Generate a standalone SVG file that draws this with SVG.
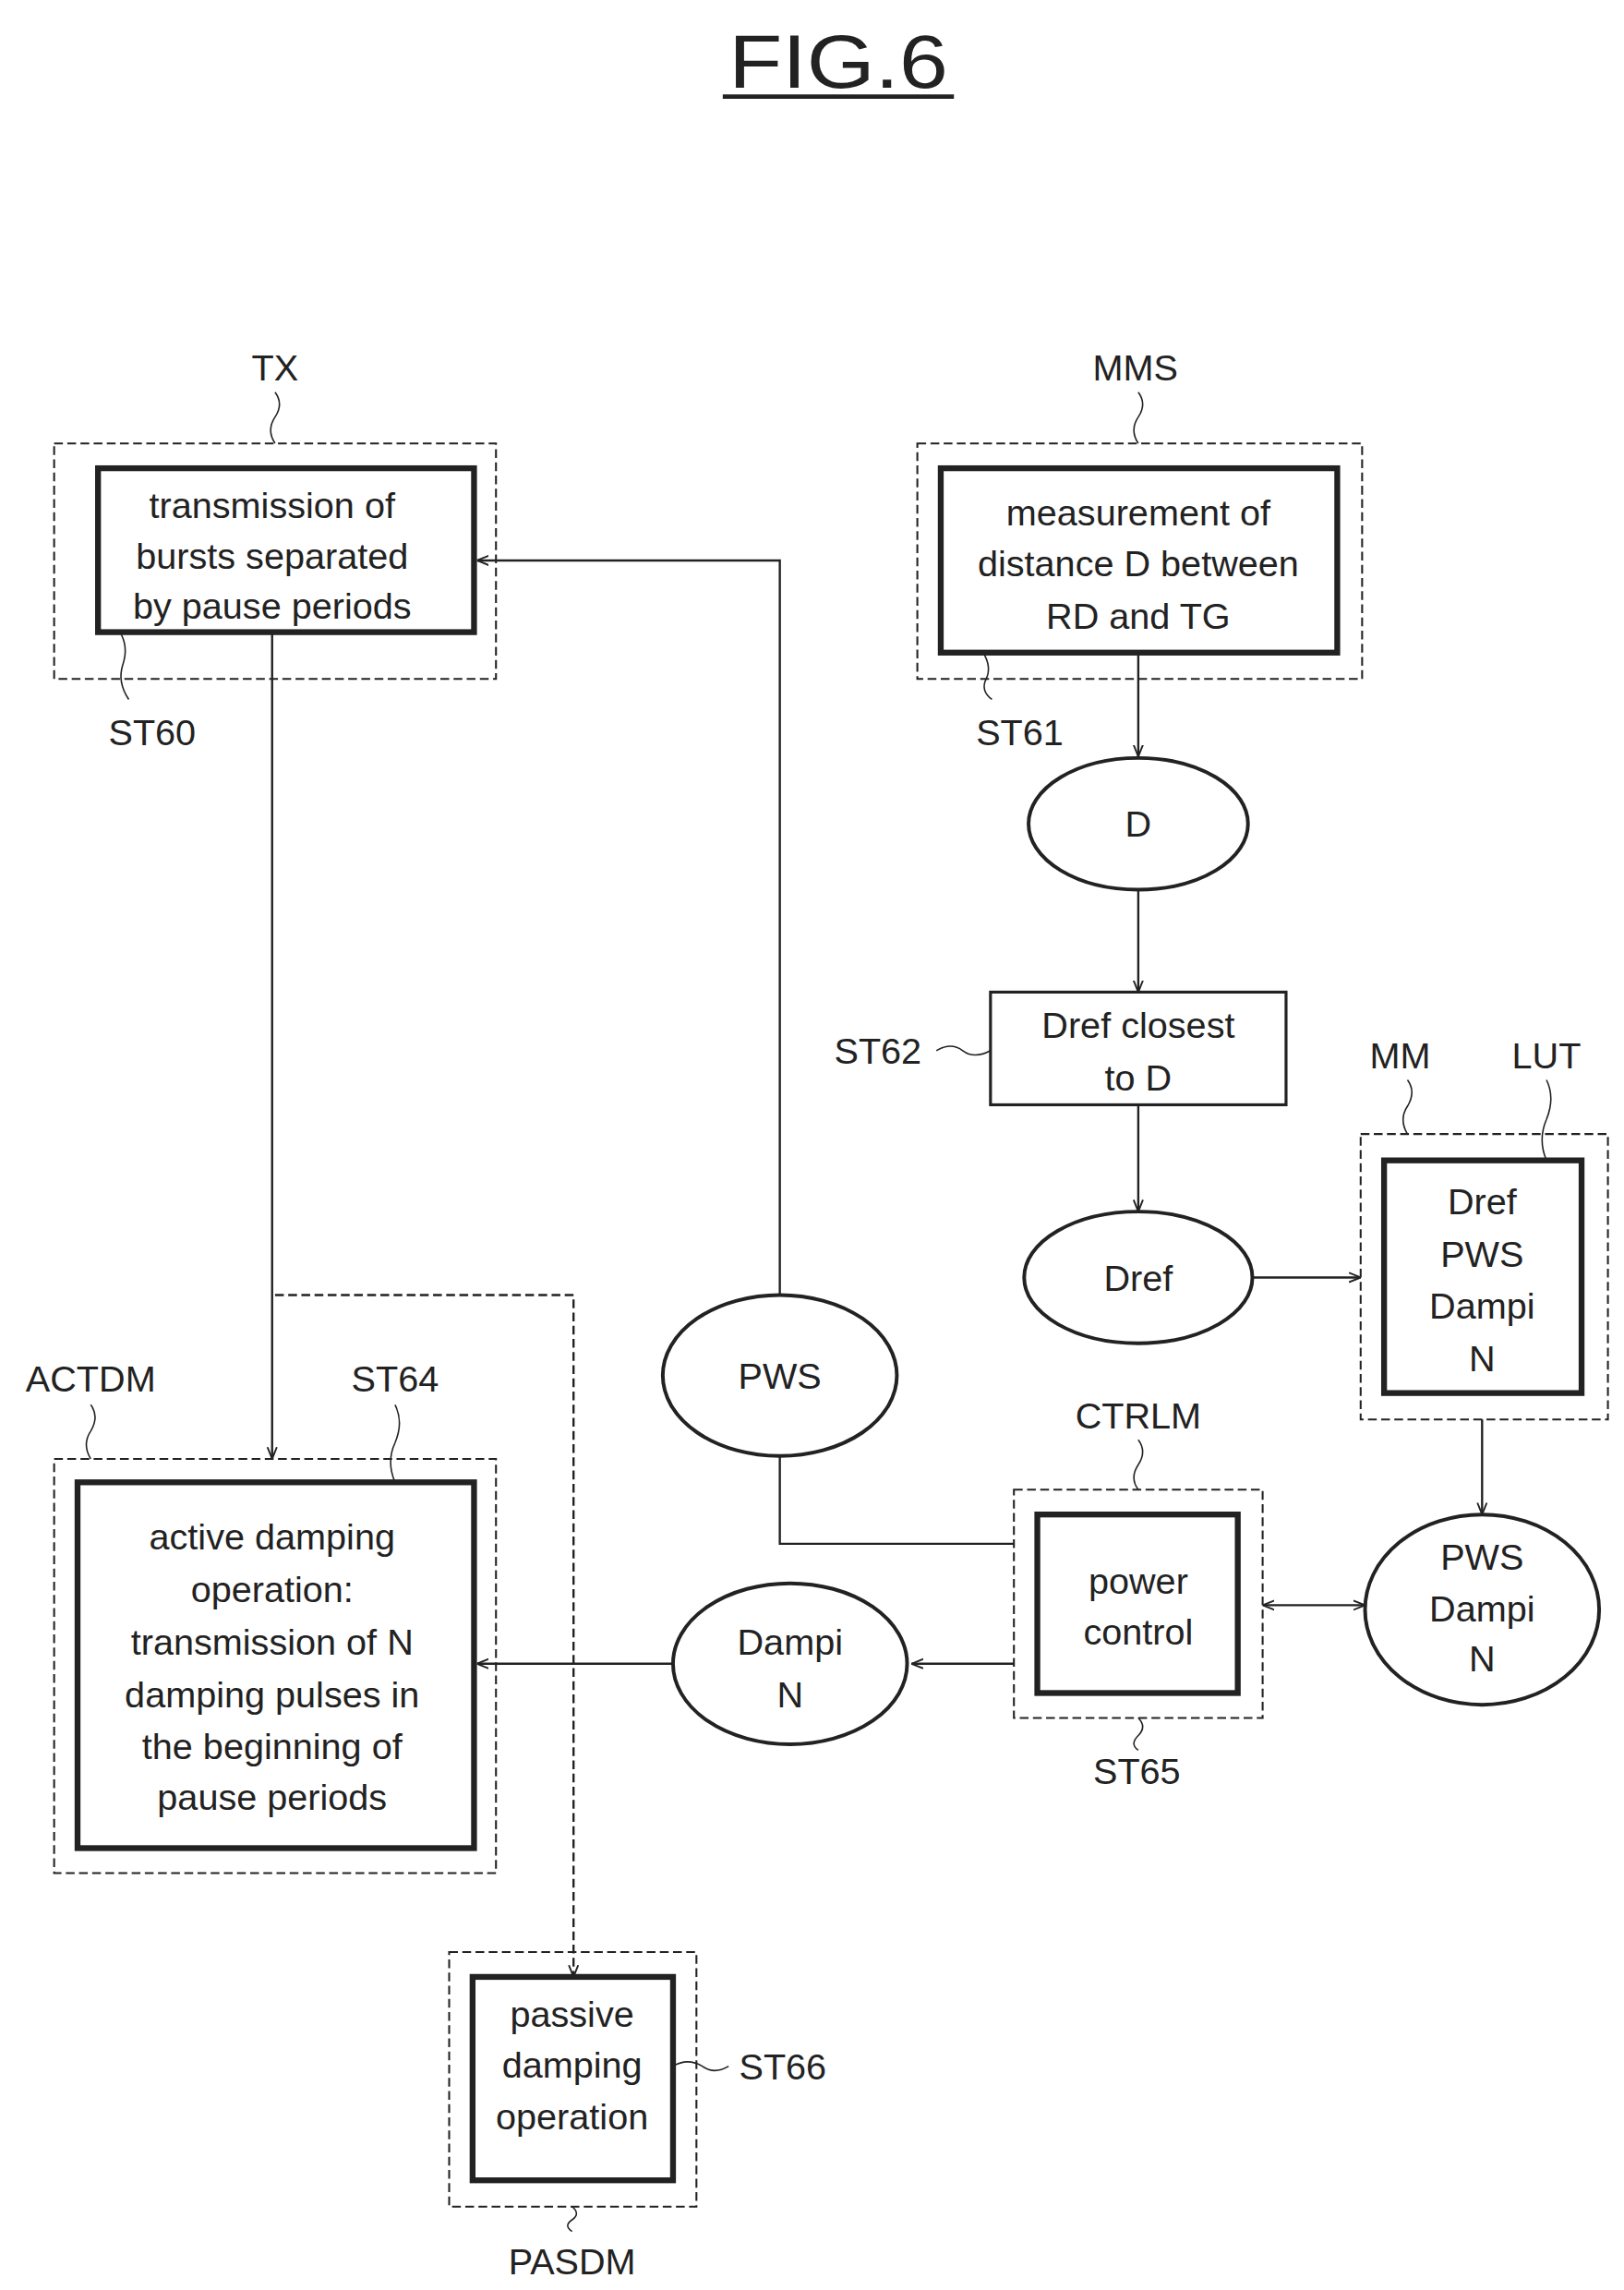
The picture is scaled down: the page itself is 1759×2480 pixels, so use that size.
<svg xmlns="http://www.w3.org/2000/svg" width="1759" height="2480" viewBox="0 0 1759 2480">
<defs>
<style>
text{font-family:"Liberation Sans",Arial,sans-serif;font-size:25px;fill:#222;text-anchor:middle}
.o{fill:none;stroke:#222;stroke-width:1.3;stroke-dasharray:6,3}
.i{fill:#fff;stroke:#222;stroke-width:4}
.b{fill:#fff;stroke:#222;stroke-width:2}
.e{fill:#fff;stroke:#222;stroke-width:2.5}
.c{fill:none;stroke:#222;stroke-width:1.5}
.d{fill:none;stroke:#222;stroke-width:1.5;stroke-dasharray:6,3}
.l{fill:none;stroke:#222;stroke-width:1}
</style>
<marker id="a" viewBox="0 0 10 10" refX="10" refY="5" markerWidth="8" markerHeight="8" orient="auto-start-reverse" markerUnits="userSpaceOnUse"><path d="M0,1 L10,5 L0,9" fill="none" stroke="#222" stroke-width="1.5"/></marker>
</defs>
<rect width="1759" height="2480" fill="#fff"/>
<g transform="scale(1.5847)">
<g id="title"><text x="573" y="60" style="font-size:52px" textLength="150" lengthAdjust="spacingAndGlyphs">FIG.6</text><line x1="494" y1="66" x2="652" y2="66" stroke="#222" stroke-width="3"/></g>
<g id="connectors">
<line class="c" x1="778" y1="446" x2="778" y2="517" marker-end="url(#a)"/>
<line class="c" x1="778" y1="608" x2="778" y2="678" marker-end="url(#a)"/>
<line class="c" x1="778" y1="755" x2="778" y2="828" marker-end="url(#a)"/>
<line class="c" x1="856" y1="873" x2="930" y2="873" marker-end="url(#a)"/>
<line class="c" x1="1013" y1="970" x2="1013" y2="1035" marker-end="url(#a)"/>
<line class="c" x1="863" y1="1097" x2="933" y2="1097" marker-start="url(#a)" marker-end="url(#a)"/>
<line class="c" x1="693" y1="1137" x2="623" y2="1137" marker-end="url(#a)"/>
<line class="c" x1="460" y1="1137" x2="326" y2="1137" marker-end="url(#a)"/>
<polyline class="c" points="533,885 533,383 326,383" marker-end="url(#a)"/>
<polyline class="c" points="533,995 533,1055 693,1055"/>
<line class="c" x1="186" y1="432" x2="186" y2="997" marker-end="url(#a)"/>
<polyline class="d" points="188,885 392,885 392,1351" marker-end="url(#a)"/>
<path class="l" d="M188,268 q6,8 0,17 q-6,9 0,18"/>
<path class="l" d="M82,432 q6,10 2,22 q-4,12 4,24"/>
<path class="l" d="M778,268 q6,8 0,17 q-6,9 0,18"/>
<path class="l" d="M672,446 q6,10 2,18 q-4,8 4,14"/>
<path class="l" d="M640,718 q10,-6 18,0 q8,6 19,0"/>
<path class="l" d="M962,738 q6,8 0,18 q-6,9 0,19"/>
<path class="l" d="M1057,738 q6,12 0,27 q-6,14 0,28"/>
<path class="l" d="M62,960 q6,8 0,18 q-6,9 0,19"/>
<path class="l" d="M270,960 q6,12 0,26 q-6,13 0,27"/>
<path class="l" d="M778,984 q6,8 0,17 q-6,9 0,17"/>
<path class="l" d="M778,1174 q6,6 0,12 q-6,6 0,10"/>
<path class="l" d="M460,1412 q10,-6 20,0 q8,6 18,0"/>
<path class="l" d="M391,1508 q6,5 0,9 q-6,4 0,8"/>
</g>
<g id="TX"><text x="188" y="260">TX</text><rect class="o" x="37" y="303" width="302" height="161"/><rect class="i" x="67" y="320" width="257" height="112"/><text x="186" y="354">transmission of</text><text x="186" y="389">bursts separated</text><text x="186" y="423">by pause periods</text><text x="104" y="509">ST60</text></g>
<g id="MMS"><text x="776" y="260">MMS</text><rect class="o" x="627" y="303" width="304" height="161"/><rect class="i" x="643" y="320" width="271" height="126"/><text x="778" y="359">measurement of</text><text x="778" y="394">distance D between</text><text x="778" y="430">RD and TG</text><text x="697" y="509">ST61</text></g>
<g id="D"><ellipse class="e" cx="778" cy="563" rx="75" ry="45"/><text x="778" y="572">D</text></g>
<g id="ST62"><rect class="b" x="677" y="678" width="202" height="77"/><text x="778" y="709">Dref closest</text><text x="778" y="745">to D</text><text x="600" y="727">ST62</text></g>
<g id="Dref"><ellipse class="e" cx="778" cy="873" rx="78" ry="45"/><text x="778" y="882">Dref</text></g>
<g id="MM"><text x="957" y="730">MM</text><text x="1057" y="730">LUT</text><rect class="o" x="930" y="775" width="169" height="195"/><rect class="i" x="946" y="793" width="135" height="159"/><text x="1013" y="830">Dref</text><text x="1013" y="866">PWS</text><text x="1013" y="901">Dampi</text><text x="1013" y="937">N</text></g>
<g id="PWSDN"><ellipse class="e" cx="1013" cy="1100" rx="80" ry="65"/><text x="1013" y="1073">PWS</text><text x="1013" y="1108">Dampi</text><text x="1013" y="1142">N</text></g>
<g id="CTRLM"><text x="778" y="976">CTRLM</text><rect class="o" x="693" y="1018" width="170" height="156"/><rect class="i" x="709" y="1035" width="137" height="122"/><text x="778" y="1089">power</text><text x="778" y="1124">control</text><text x="777" y="1219">ST65</text></g>
<g id="PWS"><ellipse class="e" cx="533" cy="940" rx="80" ry="55"/><text x="533" y="949">PWS</text></g>
<g id="DampiN"><ellipse class="e" cx="540" cy="1137" rx="80" ry="55"/><text x="540" y="1131">Dampi</text><text x="540" y="1167">N</text></g>
<g id="ACTDM"><text x="62" y="951">ACTDM</text><text x="270" y="951">ST64</text><rect class="o" x="37" y="997" width="302" height="283"/><rect class="i" x="53" y="1013" width="271" height="250"/><text x="186" y="1059">active damping</text><text x="186" y="1095">operation:</text><text x="186" y="1131">transmission of N</text><text x="186" y="1167">damping pulses in</text><text x="186" y="1202">the beginning of</text><text x="186" y="1237">pause periods</text></g>
<g id="PASDM"><rect class="o" x="307" y="1334" width="169" height="174"/><rect class="i" x="323" y="1351" width="137" height="139"/><text x="391" y="1385">passive</text><text x="391" y="1420">damping</text><text x="391" y="1455">operation</text><text x="535" y="1421">ST66</text><text x="391" y="1554">PASDM</text></g>
</g>
</svg>
